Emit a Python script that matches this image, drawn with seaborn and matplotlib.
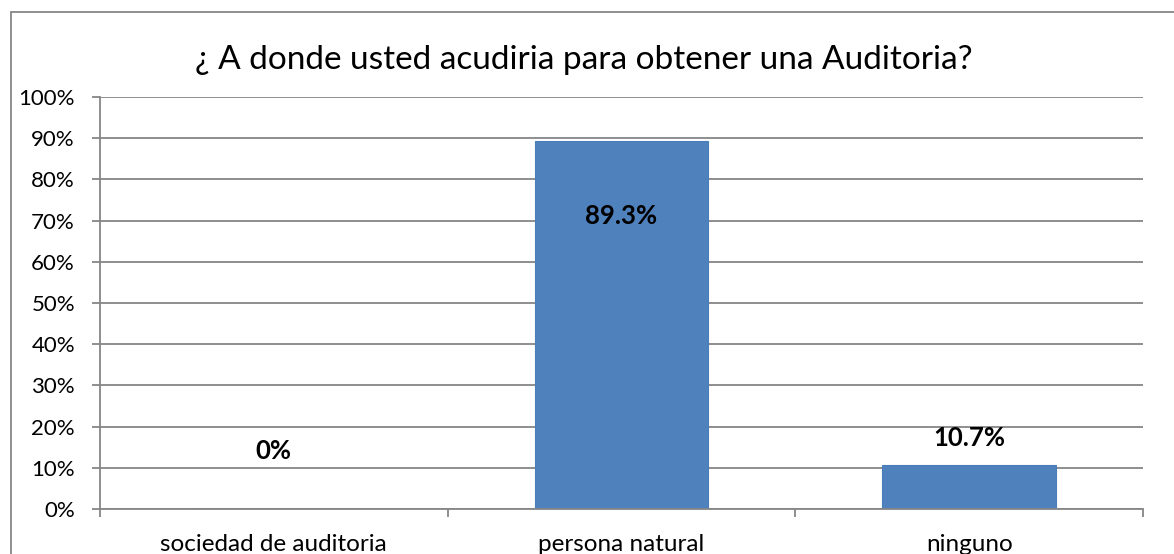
import matplotlib
matplotlib.use("Agg")
import matplotlib.pyplot as plt
import seaborn as sns
import pandas as pd
from matplotlib.lines import Line2D
from matplotlib.ticker import FixedLocator

categories = ["sociedad de auditoria", "persona natural", "ninguno"]
values = [0.0, 89.3, 10.7]
value_labels = ["0%", "89.3%", "10.7%"]
label_y = [14.0, 71.0, 17.2]
yticks = [0, 10, 20, 30, 40, 50, 60, 70, 80, 90, 100]
ytick_labels = [f"{t}%" for t in yticks]
title = "¿ A donde usted acudiria para obtener una Auditoria?"

sns.set_theme(style="white")
plt.rcParams["font.family"] = ["Lato", "DejaVu Sans"]

fig = plt.figure(figsize=(11.74, 5.54), dpi=100)
ax = fig.add_axes([100/1174, 1-509/554, (1143-100)/1174, (509-97)/554])

df = pd.DataFrame({"cat": categories, "val": values})
sns.barplot(data=df, x="cat", y="val", color="#4F81BD", width=0.5, ax=ax,
            saturation=1, edgecolor="#4A7EBB", linewidth=0.8)

ax.set_xlim(-0.5, 2.5)
ax.set_ylim(0, 100)
ax.set_yticks(yticks)
ax.set_yticklabels(ytick_labels, fontsize=16, color="black")
ax.yaxis.grid(True, color="#868686", linewidth=1.3)
ax.set_axisbelow(True)
ax.set_xlabel("")
ax.set_ylabel("")
ax.set_xticks(range(len(categories)))
ax.set_xticklabels(categories, fontsize=17.5, color="black")
ax.tick_params(axis="x", which="major", length=0, pad=18)
ax.xaxis.set_minor_locator(FixedLocator([-0.5, 0.5, 1.5, 2.5]))
ax.tick_params(axis="x", which="minor", length=6, width=1.3, color="#868686", direction="out", bottom=True)
ax.tick_params(axis="y", which="major", length=6, width=1.3, color="#868686", direction="out", left=True, pad=12)

for s in ["top", "right"]:
    ax.spines[s].set_visible(False)
for s in ["left", "bottom"]:
    ax.spines[s].set_color("#868686")
    ax.spines[s].set_linewidth(1.3)

for i, (lab, ly) in enumerate(zip(value_labels, label_y)):
    ax.text(i, ly, lab, ha="center", va="center", fontsize=18.5, fontweight="bold", color="black")

fig.text(0.4975, 1-60/554, title, ha="center", va="center", fontsize=24, color="black")

# chart-area border (left and top visible)
fig.add_artist(Line2D([11/1174, 11/1174], [0, 1-12/554], transform=fig.transFigure, color="#868686", linewidth=1.3))
fig.add_artist(Line2D([11/1174, 1], [1-12/554, 1-12/554], transform=fig.transFigure, color="#868686", linewidth=1.3))

fig.savefig("out.png", dpi=100, facecolor="white")
